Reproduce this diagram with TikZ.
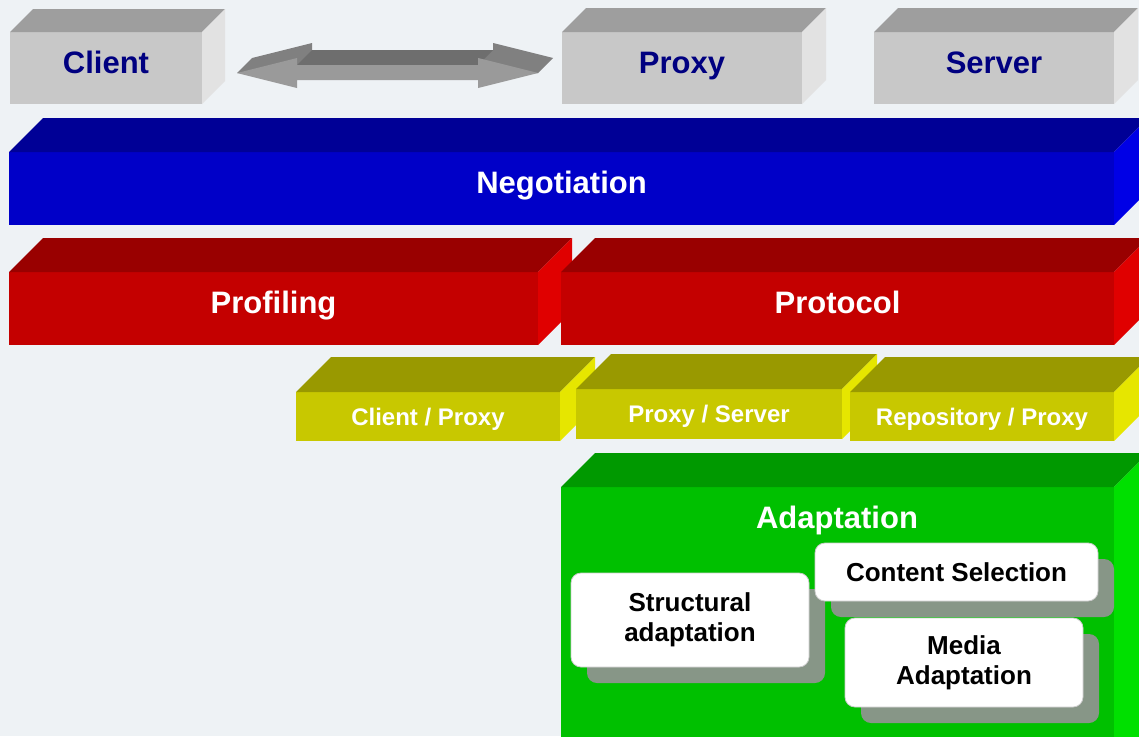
\documentclass[tikz,border=0pt]{standalone}
\usepackage{fontspec}
\setmainfont{Liberation Sans}
\usetikzlibrary{calc,shadows}

\definecolor{bgpaper}{RGB}{238,242,245}
\definecolor{greyfront}{RGB}{200,200,200}
\definecolor{greytop}{RGB}{158,158,158}
\definecolor{greyside}{RGB}{226,226,226}
\definecolor{bluefront}{RGB}{0,0,200}
\definecolor{bluetop}{RGB}{0,0,150}
\definecolor{blueside}{RGB}{0,0,230}
\definecolor{redfront}{RGB}{196,0,0}
\definecolor{redtop}{RGB}{153,0,0}
\definecolor{redside}{RGB}{224,0,0}
\definecolor{yellowfront}{RGB}{200,200,0}
\definecolor{yellowtop}{RGB}{153,153,0}
\definecolor{yellowside}{RGB}{230,230,0}
\definecolor{greenfront}{RGB}{0,192,0}
\definecolor{greentop}{RGB}{0,153,0}
\definecolor{greenside}{RGB}{0,224,0}
\definecolor{navytext}{RGB}{0,0,128}
\definecolor{arrowfront}{RGB}{154,154,154}
\definecolor{arrowtop}{RGB}{128,128,128}
\definecolor{arrowshaft}{RGB}{110,110,110}
\definecolor{shadowgrey}{RGB}{135,150,135}

% top and side faces of a slab, from its front node
\newcommand{\slabfaces}[4]{%
  \fill[#3] (#1.north west) -- ++(#2,-#2) -- ($(#1.north east)+(#2,-#2)$) -- (#1.north east) -- cycle;
  \fill[#4] (#1.north east) -- ++(#2,-#2) -- ($(#1.south east)+(#2,-#2)$) -- (#1.south east) -- cycle;
}

\begin{document}
\begin{tikzpicture}[x=1pt, y=-1pt,
  face/.style={rectangle, inner sep=0pt, outer sep=0pt},
  face_grey/.style={face, fill=greyfront, text=navytext, font=\fontsize{31}{36}\selectfont\bfseries, text height=23pt, text depth=13pt},
  face_bar/.style={face, text=white, font=\fontsize{31}{36}\selectfont\bfseries, text height=23pt, text depth=13pt},
  face_yellow/.style={face, fill=yellowfront, text=white, font=\fontsize{24}{28}\selectfont\bfseries, text height=18pt, text depth=1pt},
  module/.style={rectangle, rounded corners=10pt, fill=white, draw=gray!40, line width=0.8pt, inner sep=0pt, align=center, font=\fontsize{26}{30}\selectfont\bfseries, drop shadow={shadow xshift=16pt, shadow yshift=-16pt, fill=shadowgrey, opacity=1}}]

\useasboundingbox (0,0) rectangle (1139,736);
\fill[bgpaper] (0,0) rectangle (1139,736);
\clip (0,0) rectangle (1139,736);

\node[face_grey, minimum width=192pt, minimum height=72pt] (client) at (106,68) {Client};
\slabfaces{client}{23}{greytop}{greyside}
\node[face_grey, minimum width=240pt, minimum height=72pt] (proxy) at (682,68) {Proxy};
\slabfaces{proxy}{24}{greytop}{greyside}
\node[face_grey, minimum width=240pt, minimum height=72pt] (server) at (994,68) {Server};
\slabfaces{server}{24}{greytop}{greyside}

\coordinate (tipL) at ($(client.east)+(35,5)$);
\coordinate (tipR) at ($(proxy.west)+(-24,5)$);
\fill[arrowtop] (tipL) -- ++(15,-15) -- ++(60,-15) -- ++(0,7) -- ($(tipR)+(-45,-23)$) -- ++(0,-7) -- ($(tipR)+(15,-15)$) -- (tipR) -- cycle;
\fill[arrowshaft] ($(tipL)+(60,-8)$) -- ++(15,-15) -- ($(tipR)+(-45,-23)$) -- ++(-15,15) -- cycle;
\fill[arrowfront] (tipL) -- ++(60,-15) -- ++(0,7) -- ($(tipR)+(-60,-8)$) -- ++(0,-7) -- (tipR) -- ++(-60,15) -- ++(0,-8) -- ($(tipL)+(60,7)$) -- ++(0,8) -- cycle;

\node[face_bar, fill=bluefront, minimum width=1105pt, minimum height=73pt] (negotiation) at (561.5,188.5) {Negotiation};
\slabfaces{negotiation}{34}{bluetop}{blueside}

\node[face_bar, fill=redfront, minimum width=529pt, minimum height=73pt] (profiling) at (273.5,308.5) {Profiling};
\slabfaces{profiling}{34}{redtop}{redside}
\node[face_bar, fill=redfront, minimum width=553pt, minimum height=73pt] (protocol) at (837.5,308.5) {Protocol};
\slabfaces{protocol}{34}{redtop}{redside}

\node[face_yellow, minimum width=264pt, minimum height=49pt] (clientproxy) at (428,416.5) {Client / Proxy};
\slabfaces{clientproxy}{35}{yellowtop}{yellowside}
\node[face_yellow, minimum width=266pt, minimum height=50pt] (proxyserver) at (709,414) {Proxy / Server};
\slabfaces{proxyserver}{35}{yellowtop}{yellowside}
\node[face_yellow, minimum width=264pt, minimum height=49pt] (repoproxy) at (982,416.5) {Repository / Proxy};
\slabfaces{repoproxy}{35}{yellowtop}{yellowside}

\node[face, fill=greenfront, minimum width=553pt, minimum height=290pt] (adaptation) at (837.5,632) {};
\slabfaces{adaptation}{34}{greentop}{greenside}
\node[anchor=base, text=white, font=\fontsize{31}{36}\selectfont\bfseries] (adaptitle) at (837,528) {Adaptation};

\node[module, minimum width=238pt, minimum height=94pt] (structural) at (690,620) {Structural\\adaptation};
\node[module, minimum width=283pt, minimum height=58pt] (selection) at (956.5,572) {Content Selection};
\node[module, minimum width=238pt, minimum height=89pt] (media) at (964,662.5) {Media\\Adaptation};

\end{tikzpicture}
\end{document}
